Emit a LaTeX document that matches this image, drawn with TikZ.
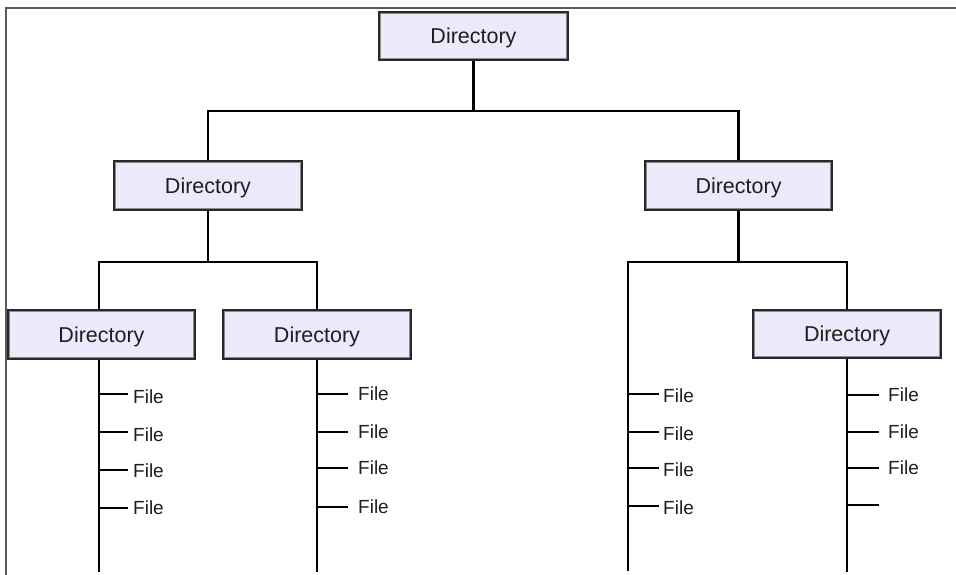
\documentclass[tikz,border=0pt]{standalone}
\usepackage{fontspec}
\setmainfont{Liberation Sans}
\definecolor{boxfill}{RGB}{234,234,250}
\definecolor{boxedge}{RGB}{40,40,40}
\definecolor{boxinner}{RGB}{140,140,140}
\definecolor{framecol}{RGB}{90,90,90}
\definecolor{txt}{RGB}{30,30,30}
\begin{document}
\begin{tikzpicture}[x=1pt,y=-1pt,
  dirbox/.style={draw=boxedge, line width=2pt, fill=boxfill,
    minimum width=#1, minimum height=48.5pt, inner sep=0pt, text depth=0pt,
    text=txt, font=\fontsize{21.5}{24}\selectfont,
    path picture={\draw[boxinner, line width=4.5pt]
      (path picture bounding box.south west) rectangle (path picture bounding box.north east);}},
  dirbox/.default=188.5pt,
  file/.style={anchor=west, inner sep=0pt, text depth=0pt, text=txt,
    font=\fontsize{19}{22}\selectfont},
  conn/.style={line width=2.2pt, black},
  frame/.style={line width=2pt, framecol}]
\useasboundingbox (0,0) rectangle (956,575);
% frame
\coordinate (fa) at (6,575);
\coordinate (fb) at (6,8);
\coordinate (fc) at (956,8);
\draw[frame] (fa) -- (fb) -- (fc);
% directory boxes
\node[dirbox=189.5pt, minimum height=48.5pt] (top) at (473.5,36) {Directory};
\node[dirbox=188.5pt] (L) at (208,185.5) {Directory};
\node[dirbox=187.5pt] (R) at (738.5,185.5) {Directory};
\node[dirbox=187.5pt, minimum height=49.5pt] (LL) at (101.5,334.5) {Directory};
\node[dirbox=188.5pt, minimum height=49.5pt] (LM) at (317,334.5) {Directory};
\node[dirbox=188.5pt, minimum height=48.5pt] (RR) at (847,334) {Directory};
% junctions and trunk ends
\coordinate (j1) at (473.5,111);
\coordinate (j2) at (208,262);
\coordinate (j3) at (738.5,262);
\coordinate (LLt) at (99,572);
\coordinate (LMt) at (317,572);
\coordinate (Rt) at (628,571);
\coordinate (RRt) at (847,572);
% tree connectors
\draw[conn] (top.south) -- (j1);
\draw[conn] (L.north) |- (j1) -| (R.north);
\draw[conn] (L.south) -- (j2);
\draw[conn] (LLt |- LL.north) |- (j2) -| (LM.north);
\draw[conn] (R.south) -- (j3);
\draw[conn] (Rt) |- (j3) -| (RR.north);
\draw[conn] (LLt |- LL.south) -- (LLt);
\draw[conn] (LM.south) -- (LMt);
\draw[conn] (RR.south) -- (RRt);
% files under LL
\foreach \y/\o [count=\i] in {394/3,432/3,470/1,508/0} {
  \node[file] (LLf\i) at (133,\y+\o) {File};
  \coordinate (LLk\i) at (99,\y);
  \draw[conn] (LLk\i) -- ++(29,0);
}
% files under LM
\foreach \y [count=\i] in {394,432,468,507} {
  \node[file] (LMf\i) at (358,\y) {File};
  \coordinate (LMk\i) at (317,\y);
  \draw[conn] (LMk\i) -- ++(31,0);
}
% files on right trunk
\foreach \y/\o [count=\i] in {394/2,432/2,468/2,506/2} {
  \node[file] (Rf\i) at (663,\y+\o) {File};
  \coordinate (Rk\i) at (628,\y);
  \draw[conn] (Rk\i) -- ++(31,0);
}
% files under RR
\foreach \y [count=\i] in {395,432,468} {
  \node[file] (RRf\i) at (888,\y) {File};
  \coordinate (RRk\i) at (847,\y);
  \draw[conn] (RRk\i) -- ++(32,0);
}
\coordinate (RRk4) at (847,505);
\draw[conn] (RRk4) -- ++(32,0);
\end{tikzpicture}
\end{document}
